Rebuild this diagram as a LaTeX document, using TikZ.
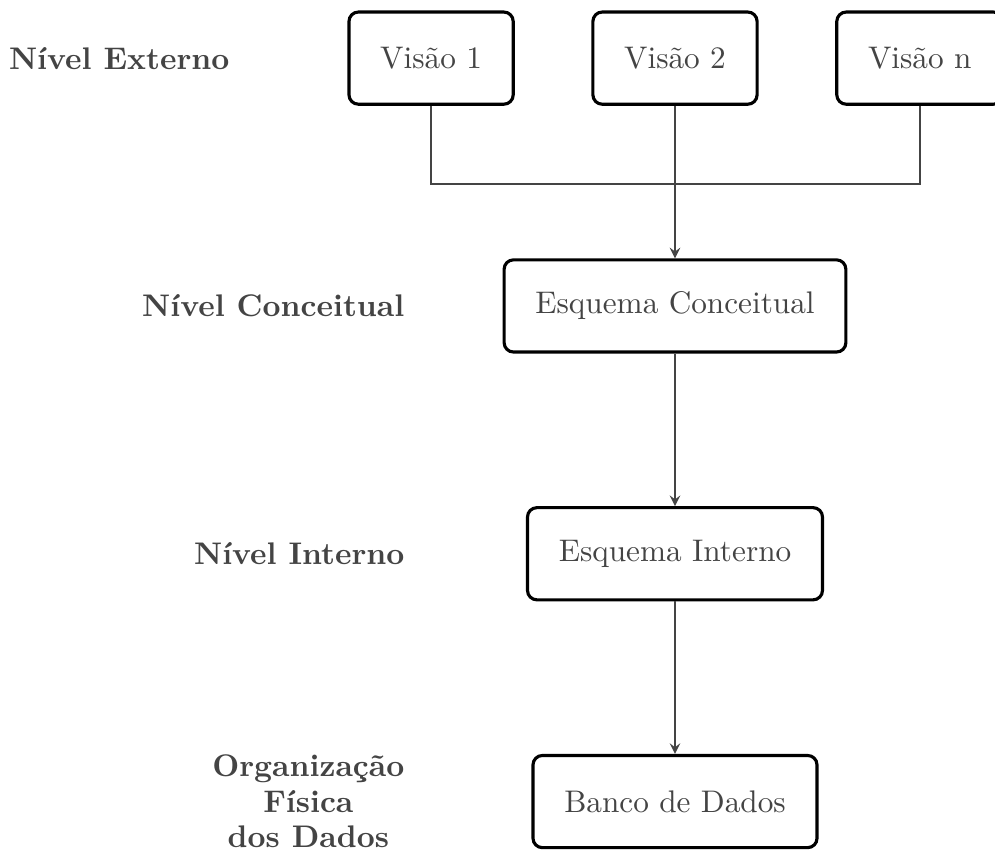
\documentclass[tikz,border=0pt]{standalone}
\usepackage{tikz}
\usetikzlibrary{positioning}
\tikzset{>=stealth}
\definecolor{inkgray}{HTML}{444444}
\tikzset{
  levelbox/.style={draw=black, line width=1pt, rounded corners=3pt,
    text=inkgray, inner xsep=10pt, minimum height=29.5pt},
  levellabel/.style={text=inkgray, font=\bfseries, anchor=east, inner sep=0pt},
  link/.style={draw=inkgray, line width=0.5pt}
}

\begin{document}
\begin{tikzpicture}
    \useasboundingbox (0,0) rectangle (318.4pt,-272.64pt);
    % set up the nodes
    \node[levelbox] (V2) at (216pt,-18.6pt) {Visão 2};
    \node[levelbox, left=24.5pt of V2] (V1) {Visão 1};
    \node[levelbox, right=24.5pt of V2] (Vn) {Visão n};
    \node[levelbox, below=48.8pt of V2] (EC) {Esquema Conceitual};
    \node[levelbox, below=48.8pt of EC] (EI) {Esquema Interno};
    \node[levelbox, below=48.8pt of EI] (BD) {Banco de Dados};
    % labels on the left
    \coordinate (LX) at (129.6pt,0);
    \node[levellabel] (LExt) at (73.6pt,-18.6pt) {Nível Externo};
    \node[levellabel] (LConc) at (EC -| LX) {Nível Conceitual};
    \node[levellabel] (LInt) at (EI -| LX) {Nível Interno};
    \node[levellabel, align=center] (LFis) at (BD -| LX) {Organização\\[-0.6pt]Física\\[-0.6pt]dos Dados};
    % draw the connectors
    \draw[link] (V1.south) -- ++(0,-25pt) -| (Vn.south);
    \draw[link,->] (V2.south) -- (EC.north);
    \draw[link,->] (EC.south) -- (EI.north);
    \draw[link,->] (EI.south) -- (BD.north);
\end{tikzpicture}
\end{document}
